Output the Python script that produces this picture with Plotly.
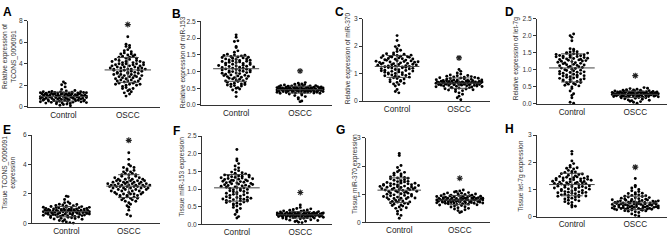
import numpy as np
import plotly.graph_objects as go

categories = ["Control", "OSCC"]

A_control = [0.95, 1.22, 0.48, 1.31, 0.77, 1.05, 0.62, 1.18, 0.35, 1.40, 0.88, 1.12, 0.55, 1.27, 0.71, 0.99, 1.35, 0.42, 1.08, 0.83, 1.25, 0.29, 1.15, 0.67, 1.44, 0.91, 0.58, 1.20, 0.78, 1.02, 0.15, 1.33, 0.64, 1.10, 0.86, 1.28, 0.45, 0.97, 1.38, 0.73, 1.16, 0.52, 1.24, 0.81, 0.22, 1.06, 0.69, 1.30, 0.93, 0.38, 1.19, 0.60, 1.47, 0.85, 1.13, 0.50, 1.26, 0.75, 1.01, 0.32, 1.36, 0.66, 1.09, 0.89, 1.21, 0.44, 0.96, 1.52, 0.57, 1.14, 0.80, 1.29, 0.26, 1.04, 0.70, 1.41, 0.92, 0.61, 1.17, 0.47, 1.23, 0.84, 0.10, 1.07, 0.74, 1.34, 0.54, 0.98, 1.62, 1.85, 2.05, 2.18, 2.32, 0.40, 1.11, 0.79, 1.32, 0.63, 0.87, 1.00]
A_oscc = [3.4, 2.1, 4.6, 3.0, 5.2, 2.6, 3.8, 1.7, 4.2, 3.2, 2.4, 4.9, 3.6, 1.3, 4.4, 2.8, 3.9, 5.6, 2.2, 3.5, 4.0, 1.9, 3.1, 4.7, 2.7, 3.7, 5.0, 2.0, 3.3, 4.3, 1.5, 3.9, 2.5, 4.5, 3.0, 5.8, 2.3, 3.6, 4.1, 1.8, 3.4, 2.9, 4.8, 3.2, 1.0, 4.0, 2.6, 3.7, 5.3, 2.1, 3.5, 4.2, 2.8, 3.1, 4.6, 1.6, 3.8, 2.4, 4.4, 3.3, 5.7, 2.7, 3.9, 1.4, 4.1, 3.0, 2.2, 4.9, 3.5, 2.0, 3.7, 4.3, 2.9, 5.5, 3.2, 1.2, 4.0, 2.5, 3.6, 4.7, 2.3, 3.4, 6.5, 2.8, 3.8, 4.5, 1.7, 3.1, 4.2, 2.6, 3.9, 5.1, 2.1, 3.3, 4.8, 3.6, 2.9, 4.1, 3.5, 2.4]

B_control = [1.05, 1.42, 0.72, 1.18, 0.88, 1.30, 0.60, 1.12, 1.48, 0.95, 1.25, 0.55, 1.38, 0.80, 1.08, 1.52, 0.68, 1.20, 0.92, 1.35, 0.45, 1.02, 1.45, 0.78, 1.15, 0.62, 1.28, 0.98, 1.40, 0.85, 1.10, 0.50, 1.32, 0.75, 1.22, 1.50, 0.65, 1.00, 1.36, 0.90, 1.17, 0.58, 1.44, 0.82, 1.06, 0.38, 1.27, 0.96, 1.47, 0.70, 1.13, 0.87, 1.33, 0.52, 1.03, 1.41, 0.77, 1.19, 0.63, 1.29, 0.94, 1.10, 0.25, 1.38, 0.83, 1.24, 0.57, 1.07, 1.49, 0.73, 1.16, 0.89, 1.31, 0.48, 1.01, 1.43, 0.79, 1.21, 0.66, 1.34, 0.97, 1.72, 1.75, 1.90, 1.92, 2.03, 2.10, 1.58, 1.62, 0.99, 1.14, 0.86, 1.26, 0.61, 1.04]
B_oscc = [0.45, 0.52, 0.38, 0.48, 0.55, 0.42, 0.50, 0.35, 0.47, 0.58, 0.44, 0.51, 0.40, 0.46, 0.60, 0.37, 0.49, 0.53, 0.43, 0.56, 0.33, 0.48, 0.62, 0.41, 0.50, 0.45, 0.54, 0.39, 0.47, 0.57, 0.28, 0.44, 0.52, 0.42, 0.49, 0.65, 0.36, 0.46, 0.55, 0.40, 0.51, 0.43, 0.59, 0.34, 0.48, 0.53, 0.22, 0.45, 0.50, 0.41, 0.56, 0.38, 0.47, 0.61, 0.44, 0.52, 0.30, 0.49, 0.42, 0.54, 0.46, 0.39, 0.57, 0.45, 0.51, 0.18, 0.48, 0.43, 0.63, 0.40, 0.50, 0.36, 0.53, 0.47, 0.44, 0.58, 0.41, 0.49, 0.25, 0.46, 0.55, 0.42, 0.52, 0.38, 0.67, 0.45, 0.12, 0.50, 0.43, 0.48, 0.35, 0.54, 0.46, 0.40, 0.51, 0.10]

C_control = [1.30, 1.65, 0.92, 1.45, 1.10, 1.58, 0.78, 1.35, 1.72, 1.05, 1.50, 0.85, 1.25, 1.62, 0.98, 1.40, 0.70, 1.18, 1.55, 1.02, 1.38, 0.62, 1.28, 1.68, 0.95, 1.48, 1.12, 1.60, 0.82, 1.22, 1.75, 1.08, 1.42, 0.55, 1.32, 1.52, 0.90, 1.20, 1.66, 1.00, 1.36, 0.75, 1.27, 1.57, 1.15, 1.80, 0.88, 1.33, 1.47, 0.68, 1.24, 1.63, 1.06, 1.39, 0.42, 1.29, 1.54, 0.96, 1.44, 1.14, 1.70, 0.80, 1.26, 1.49, 1.03, 1.37, 0.60, 1.21, 1.59, 0.93, 1.34, 1.85, 1.11, 1.46, 0.72, 1.31, 1.90, 0.87, 1.23, 1.98, 2.02, 2.20, 2.38, 0.35, 0.30, 1.41, 1.17, 1.61, 0.99, 1.53, 0.65, 1.19, 1.43, 1.09, 1.67]
C_oscc = [0.65, 0.78, 0.52, 0.70, 0.60, 0.85, 0.45, 0.68, 0.75, 0.58, 0.90, 0.62, 0.72, 0.40, 0.66, 0.80, 0.55, 0.69, 0.95, 0.63, 0.48, 0.74, 0.61, 0.82, 0.35, 0.67, 0.77, 0.57, 0.71, 0.88, 0.64, 0.50, 0.73, 0.59, 0.92, 0.66, 0.42, 0.76, 0.62, 0.84, 0.54, 0.69, 0.98, 0.60, 0.30, 0.72, 0.65, 0.81, 0.47, 0.68, 0.58, 0.87, 0.63, 0.75, 0.38, 0.70, 0.61, 1.02, 0.56, 0.67, 0.79, 0.44, 0.64, 0.73, 0.25, 0.66, 0.86, 0.59, 0.71, 0.51, 0.93, 0.62, 0.68, 0.18, 0.74, 0.57, 0.83, 0.65, 0.49, 0.70, 1.08, 0.12, 0.63, 0.77, 0.55, 1.15, 0.67, 0.05, 0.60, 0.72, 0.53, 0.89, 0.66, 0.41, 0.69]

D_control = [1.05, 1.45, 0.68, 1.22, 0.88, 1.38, 0.55, 1.12, 1.50, 0.75, 1.30, 0.95, 1.42, 0.62, 1.18, 0.82, 1.35, 1.00, 1.52, 0.70, 1.25, 0.90, 1.40, 0.58, 1.15, 0.78, 1.32, 1.08, 1.48, 0.65, 1.20, 0.85, 1.37, 0.98, 1.55, 0.50, 1.28, 0.92, 1.43, 0.72, 1.10, 0.80, 1.33, 1.02, 1.47, 0.60, 1.24, 0.87, 1.39, 0.45, 1.16, 0.76, 1.31, 0.97, 1.53, 0.66, 1.21, 0.84, 1.36, 1.04, 1.46, 0.57, 1.13, 0.79, 1.29, 0.93, 1.41, 0.38, 1.19, 0.71, 1.34, 0.99, 1.62, 0.63, 1.26, 0.89, 1.44, 0.30, 1.09, 0.74, 1.60, 0.25, 1.85, 1.95, 2.00, 2.05, 0.18, 0.05, 0.02, 1.07, 0.83, 1.27, 0.53, 1.14, 0.94, 1.49]
D_oscc = [0.28, 0.34, 0.22, 0.31, 0.26, 0.38, 0.18, 0.30, 0.35, 0.24, 0.40, 0.27, 0.32, 0.15, 0.29, 0.36, 0.21, 0.33, 0.42, 0.25, 0.12, 0.31, 0.37, 0.23, 0.28, 0.45, 0.20, 0.34, 0.26, 0.39, 0.10, 0.30, 0.35, 0.22, 0.32, 0.27, 0.41, 0.17, 0.29, 0.36, 0.24, 0.33, 0.08, 0.28, 0.38, 0.21, 0.31, 0.26, 0.43, 0.19, 0.30, 0.34, 0.23, 0.37, 0.05, 0.27, 0.32, 0.25, 0.40, 0.20, 0.29, 0.35, 0.14, 0.31, 0.48, 0.24, 0.33, 0.28, 0.02, 0.36, 0.22, 0.30, 0.26, 0.39, 0.18, 0.32, 0.27, 0.34, 0.11, 0.29, 0.37, 0.23, 0.31, 0.46, 0.25, 0.33, 0.07, 0.28, 0.35, 0.21, 0.30]

E_control = [0.80, 1.10, 0.55, 0.92, 0.68, 1.22, 0.40, 0.85, 1.02, 0.62, 0.95, 0.30, 0.78, 1.15, 0.50, 0.88, 0.72, 1.30, 0.45, 0.98, 0.60, 0.83, 1.08, 0.35, 0.75, 1.25, 0.58, 0.90, 0.20, 0.82, 1.05, 0.65, 0.94, 0.48, 1.18, 0.70, 0.86, 0.25, 1.00, 0.56, 0.79, 1.35, 0.63, 0.91, 0.42, 1.12, 0.74, 0.87, 0.15, 0.96, 0.52, 0.81, 1.20, 0.66, 0.89, 0.38, 1.04, 0.71, 0.84, 0.10, 0.93, 0.59, 0.77, 1.28, 0.47, 0.99, 0.69, 0.86, 0.05, 1.07, 0.61, 0.80, 1.40, 0.53, 0.90, 0.33, 1.14, 0.73, 0.83, 0.02, 0.97, 0.57, 0.76, 1.45, 1.62, 1.82, 1.85, 0.44, 1.01, 0.67, 0.88, 0.28, 1.09, 0.64, 0.79]
E_oscc = [2.5, 3.1, 1.8, 2.7, 2.2, 3.5, 1.6, 2.6, 3.0, 2.0, 2.8, 3.8, 1.9, 2.4, 3.3, 1.5, 2.6, 2.9, 2.1, 3.6, 1.7, 2.5, 3.2, 2.3, 2.7, 1.2, 2.9, 3.4, 2.0, 2.5, 4.0, 1.8, 2.6, 3.0, 2.2, 2.8, 1.4, 2.4, 3.7, 1.9, 2.7, 3.1, 2.3, 2.5, 0.9, 2.8, 3.3, 2.1, 2.6, 1.6, 2.9, 3.5, 2.0, 2.4, 3.9, 1.7, 2.7, 3.0, 2.2, 2.5, 1.1, 2.6, 3.2, 2.3, 2.8, 4.35, 1.8, 2.5, 3.4, 2.0, 2.7, 1.5, 2.9, 3.1, 2.4, 2.6, 0.6, 2.2, 3.6, 1.9, 2.8, 4.8, 2.1, 2.5, 3.0, 1.7, 2.7, 0.5, 2.4, 3.3, 2.0, 2.6, 1.3, 2.9, 3.8, 2.3]

F_control = [1.08, 1.40, 0.72, 1.22, 0.88, 1.32, 0.62, 1.12, 1.48, 0.95, 1.27, 0.55, 1.05, 1.38, 0.78, 1.18, 0.68, 1.30, 0.92, 1.45, 0.48, 1.10, 0.82, 1.35, 0.65, 1.02, 1.25, 0.75, 1.15, 1.52, 0.58, 0.98, 1.33, 0.70, 1.20, 0.85, 1.42, 0.40, 1.06, 1.28, 0.76, 1.14, 0.60, 1.37, 0.90, 1.24, 0.52, 1.09, 1.46, 0.73, 1.17, 0.86, 1.31, 0.35, 1.04, 1.55, 0.67, 1.21, 0.80, 1.36, 0.96, 1.11, 0.28, 1.43, 0.71, 1.26, 0.63, 1.07, 1.60, 0.84, 1.19, 0.57, 1.34, 0.93, 1.65, 0.22, 1.00, 1.72, 0.77, 1.80, 0.18, 1.85, 2.12, 1.13, 0.69, 1.29, 0.89, 1.39, 0.45, 1.03, 0.74, 1.23, 0.99, 1.16, 0.66]
F_oscc = [0.27, 0.32, 0.22, 0.29, 0.25, 0.35, 0.18, 0.28, 0.31, 0.23, 0.38, 0.26, 0.30, 0.15, 0.27, 0.34, 0.21, 0.29, 0.40, 0.24, 0.12, 0.28, 0.33, 0.22, 0.26, 0.42, 0.19, 0.30, 0.25, 0.36, 0.10, 0.27, 0.32, 0.20, 0.29, 0.24, 0.45, 0.16, 0.28, 0.34, 0.23, 0.31, 0.08, 0.26, 0.37, 0.21, 0.29, 0.25, 0.48, 0.17, 0.28, 0.33, 0.22, 0.30, 0.06, 0.27, 0.35, 0.24, 0.39, 0.19, 0.28, 0.32, 0.13, 0.29, 0.55, 0.23, 0.31, 0.26, 0.05, 0.34, 0.21, 0.28, 0.25, 0.41, 0.18, 0.30, 0.27, 0.33, 0.11, 0.26, 0.36, 0.22, 0.29, 0.44, 0.24, 0.31, 0.09, 0.27, 0.32, 0.20]

G_control = [1.20, 1.55, 0.82, 1.35, 1.00, 1.62, 0.70, 1.28, 1.75, 0.92, 1.42, 0.60, 1.15, 1.68, 0.88, 1.32, 0.50, 1.10, 1.50, 0.95, 1.38, 0.75, 1.25, 1.80, 0.65, 1.18, 1.45, 0.85, 1.30, 0.40, 1.05, 1.58, 0.78, 1.22, 1.72, 0.98, 1.36, 0.55, 1.12, 1.48, 0.90, 1.27, 0.30, 1.08, 1.65, 0.72, 1.33, 1.02, 1.52, 0.62, 1.17, 1.40, 0.86, 1.24, 0.45, 1.06, 1.78, 0.80, 1.29, 0.96, 1.44, 0.68, 1.14, 1.60, 0.25, 1.21, 0.89, 1.37, 0.58, 1.09, 1.85, 0.76, 1.26, 0.15, 1.34, 0.94, 1.95, 1.16, 2.02, 0.84, 2.38, 2.45, 1.23, 0.66, 1.39, 1.04, 1.57, 0.52, 1.19, 0.87, 1.31, 0.73, 1.11, 1.46, 0.99]
G_oscc = [0.80, 0.92, 0.70, 0.85, 0.75, 1.00, 0.62, 0.82, 0.95, 0.72, 0.88, 0.55, 0.78, 1.05, 0.68, 0.84, 0.76, 0.97, 0.58, 0.81, 0.90, 0.73, 0.86, 0.48, 0.79, 1.08, 0.66, 0.83, 0.94, 0.71, 0.87, 0.52, 0.77, 1.02, 0.69, 0.80, 0.91, 0.74, 0.85, 0.42, 0.78, 1.10, 0.64, 0.82, 0.96, 0.72, 0.88, 0.60, 0.79, 1.12, 0.67, 0.84, 0.93, 0.75, 0.81, 0.38, 0.86, 1.04, 0.70, 0.80, 0.99, 0.73, 0.89, 0.56, 0.77, 1.15, 0.65, 0.83, 0.95, 0.71, 0.87, 0.35, 0.79, 1.06, 0.68, 0.82, 0.90, 0.74, 0.85, 0.50, 0.78, 0.97, 0.63, 0.84, 1.01, 0.72, 0.88, 0.45, 0.80, 0.93, 0.69, 0.86]

H_control = [1.22, 1.58, 0.88, 1.40, 1.05, 1.70, 0.75, 1.30, 1.78, 0.95, 1.48, 0.65, 1.18, 1.62, 0.92, 1.35, 0.55, 1.12, 1.52, 1.00, 1.42, 0.80, 1.27, 1.82, 0.70, 1.20, 1.45, 0.90, 1.33, 0.48, 1.08, 1.60, 0.82, 1.25, 1.75, 1.02, 1.38, 0.60, 1.15, 1.50, 0.94, 1.28, 0.42, 1.10, 1.66, 0.78, 1.36, 1.04, 1.55, 0.68, 1.19, 1.43, 0.86, 1.26, 0.52, 1.07, 1.80, 0.84, 1.31, 0.98, 1.46, 0.72, 1.16, 1.64, 0.38, 1.23, 0.91, 1.39, 0.62, 1.11, 1.88, 0.79, 1.29, 0.35, 1.37, 0.96, 1.95, 1.17, 2.05, 0.87, 2.30, 2.40, 1.24, 0.73, 1.41, 1.06, 1.57, 0.58, 1.21, 0.89, 1.34, 0.76, 1.13, 1.47, 1.01]
H_oscc = [0.45, 0.62, 0.32, 0.52, 0.28, 0.75, 0.38, 0.55, 0.25, 0.48, 0.85, 0.35, 0.58, 0.30, 0.42, 0.68, 0.22, 0.50, 0.95, 0.33, 0.47, 0.27, 0.60, 0.40, 0.78, 0.31, 0.53, 0.20, 0.44, 1.05, 0.36, 0.57, 0.29, 0.65, 0.41, 0.88, 0.34, 0.49, 0.24, 0.72, 0.39, 0.54, 0.18, 0.46, 1.10, 0.37, 0.63, 0.30, 0.51, 0.82, 0.26, 0.43, 0.69, 0.33, 0.56, 0.15, 0.48, 0.92, 0.35, 0.59, 0.28, 0.45, 1.00, 0.40, 0.66, 0.23, 0.52, 0.80, 0.31, 0.47, 0.10, 0.38, 0.74, 0.44, 0.61, 0.27, 0.50, 1.15, 0.34, 0.57, 0.21, 0.42, 0.86, 0.36, 0.64, 0.05, 0.49, 0.70, 0.32, 0.55, 1.40, 0.02, 0.46, 0.77, 0.39, 0.58]

panel_letters = ["A", "B", "C", "D", "E", "F", "G", "H"]
y_titles = [
    "Relative expression of<br>TCONS_0006091",
    "Relative expression of miR-153",
    "Relative expression of miR-370",
    "Relative expression of let-7g",
    "Tissue TCONS_0006091<br>expression",
    "Tissue miR-153 expression",
    "Tissue miR-370 expression",
    "Tissue let-7g expression",
]
y_tick_values = [
    [0, 2, 4, 6, 8],
    [0, 0.5, 1.0, 1.5, 2.0, 2.5],
    [0, 1, 2, 3],
    [0, 0.5, 1.0, 1.5, 2.0, 2.5],
    [0, 2, 4, 6],
    [0, 0.5, 1.0, 1.5, 2.0, 2.5],
    [0, 1, 2, 3],
    [0, 1, 2, 3],
]
y_tick_format = ["d", ".1f", "d", ".1f", "d", ".1f", "d", "d"]
groups = [
    (A_control, A_oscc), (B_control, B_oscc), (C_control, C_oscc), (D_control, D_oscc),
    (E_control, E_oscc), (F_control, F_oscc), (G_control, G_oscc), (H_control, H_oscc),
]

# ---- layout (pixels) ----
W, H = 669, 240
# x0, x1, ytop, ybottom of each plot area
boxes = [
    (28, 160, 17, 106), (201, 332, 18, 104), (363, 490, 15, 100), (537, 667, 15, 103),
    (32, 160, 135, 226), (202, 332, 136, 227), (366, 490, 138, 225), (537, 667, 135, 219),
]
letter_pos = [(7, 8), (176, 10), (339, 8), (509, 8), (7, 130), (176, 131), (340, 130), (509, 129)]
title_pos = [(9.5, 54), (183, 60), (348, 56), (516, 56), (9.5, 174), (182, 178), (355, 175), (521, 177)]
XR = (-0.55, 1.5)
FONT = "Liberation Sans, Arial, sans-serif"


def swarm(vals, ppu_y, ppu_x, d=3.5, maxhalf=23.0):
    v = np.asarray(vals, float)
    bh = d / ppu_y
    bins = np.floor(v / bh).astype(int)
    off = np.zeros(len(v))
    for b in np.unique(bins):
        idx = np.where(bins == b)[0]
        n = len(idx)
        if n == 1:
            continue
        step = min(d, 2 * maxhalf / (n - 1))
        for k, i in enumerate(idx):
            off[i] = (k - (n - 1) / 2) * step / ppu_x
    return off


fig = go.Figure()
annotations = []
layout = {}
for p in range(8):
    n = p + 1
    x0, x1, yt, yb = boxes[p]
    ymax = max(y_tick_values[p])
    ppu_y = (yb - yt) / ymax
    ppu_x = (x1 - x0) / (XR[1] - XR[0])
    xa, ya = f"x{n}", f"y{n}"
    for c, vals in enumerate(groups[p]):
        off = swarm(vals, ppu_y, ppu_x)
        fig.add_trace(go.Scatter(
            x=c + off, y=vals, mode="markers", xaxis=xa, yaxis=ya,
            marker=dict(size=2.9, color="black", line=dict(width=0)),
            cliponaxis=False, showlegend=False, hoverinfo="skip"))
        m = float(np.mean(vals))
        s = float(np.std(vals, ddof=1))
        lx = [c - 0.36, c + 0.36, None, c, c, None, c - 0.17, c + 0.17, None, c - 0.17, c + 0.17]
        ly = [m, m, None, m - s, m + s, None, m + s, m + s, None, m - s, m - s]
        fig.add_trace(go.Scatter(
            x=lx, y=ly, mode="lines", xaxis=xa, yaxis=ya,
            line=dict(color="#444444", width=1), cliponaxis=False,
            showlegend=False, hoverinfo="skip"))
    # significance star above OSCC
    fig.add_trace(go.Scatter(
        x=[1], y=[max(groups[p][1]) + 0.14 * ymax], mode="markers", xaxis=xa, yaxis=ya,
        marker=dict(symbol="asterisk-open", size=5, color="#222222", line=dict(width=1.1, color="#222222")),
        cliponaxis=False, showlegend=False, hoverinfo="skip"))
    # panel letter
    lx_, ly_ = letter_pos[p]
    annotations.append(dict(
        x=lx_ / W, y=1 - ly_ / H, xref="paper", yref="paper", text=f"<b>{panel_letters[p]}</b>",
        showarrow=False, font=dict(family=FONT, size=12, color="black"),
        xanchor="center", yanchor="middle"))
    tx, ty = title_pos[p]
    annotations.append(dict(
        x=tx / W, y=1 - ty / H, xref="paper", yref="paper", text=y_titles[p],
        showarrow=False, textangle=-90, font=dict(family=FONT, size=6.6, color="#333333"),
        xanchor="center", yanchor="middle"))
    sfx = "" if n == 1 else str(n)
    layout[f"xaxis{sfx}"] = dict(
        domain=[x0 / W, x1 / W], range=list(XR), anchor=ya, showline=True,
        linecolor="#333333", linewidth=1, tickvals=[0, 1], ticktext=categories,
        ticks="", tickfont=dict(family=FONT, size=8.2, color="#222222"),
        showgrid=False, zeroline=False, fixedrange=True)
    layout[f"yaxis{sfx}"] = dict(
        domain=[1 - yb / H, 1 - yt / H], range=[0, ymax], anchor=xa, showline=True,
        linecolor="#333333", linewidth=1, ticks="outside", ticklen=3, tickwidth=1,
        tickcolor="#333333", tickvals=y_tick_values[p], tickformat=y_tick_format[p],
        tickfont=dict(family=FONT, size=6.6, color="#333333"),
        showgrid=False, zeroline=False, fixedrange=True)

fig.update_layout(
    width=W, height=H, margin=dict(l=0, r=0, t=0, b=0),
    paper_bgcolor="white", plot_bgcolor="white",
    annotations=annotations, **layout)

fig.write_html("out.html", config={"displayModeBar": False})
